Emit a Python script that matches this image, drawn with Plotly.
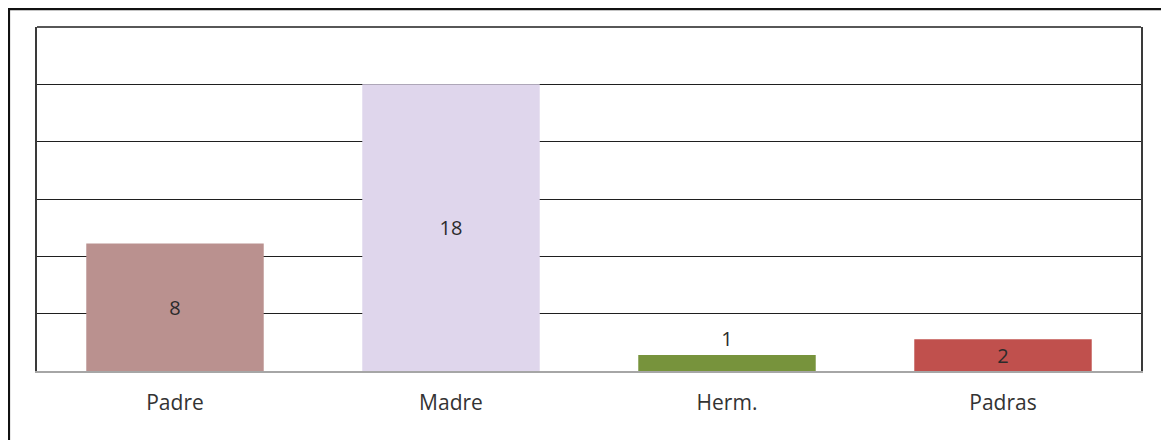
import plotly.graph_objects as go

categories = ["Padre", "Madre", "Herm.", "Padras"]
values = [8, 18, 1, 2]
bar_colors = ["#BA918F", "#DFD6EC", "#77933C", "#C0504D"]
text_positions = ["inside", "inside", "outside", "inside"]

y_max = 21.6
y_step = 3.6

fig = go.Figure()
fig.add_trace(go.Bar(
    x=categories,
    y=values,
    marker=dict(color=bar_colors, line=dict(width=0)),
    text=[str(v) for v in values],
    textposition=text_positions,
    textangle=0,
    insidetextanchor="middle",
    textfont=dict(family="Open Sans", size=20, color="#2B2B2B"),
    insidetextfont=dict(family="Open Sans", size=20, color="#2B2B2B"),
    outsidetextfont=dict(family="Open Sans", size=20, color="#2B2B2B"),
    constraintext="none",
    cliponaxis=False,
    width=0.643,
    hoverinfo="x+y",
))

# The page body adds an 8px margin, so the figure is sized/offset to compensate.
fig.update_layout(
    width=1161,
    height=432,
    margin=dict(l=29, r=28, t=19, b=69),
    paper_bgcolor="white",
    plot_bgcolor="white",
    showlegend=False,
    font=dict(family="Open Sans", size=21, color="#333333"),
    xaxis=dict(
        showline=True,
        linecolor="#A6A6A6",
        linewidth=1.5,
        showgrid=False,
        ticks="",
        tickfont=dict(family="Open Sans", size=21, color="#333333"),
        ticklabelstandoff=12,
    ),
    yaxis=dict(
        range=[0, y_max],
        tick0=0,
        dtick=y_step,
        showgrid=True,
        gridcolor="#1F1F1F",
        gridwidth=1,
        showticklabels=False,
        ticks="",
        zeroline=False,
        showline=True,
        linecolor="#3A3A3A",
        linewidth=1.5,
        mirror=True,
    ),
    shapes=[
        dict(type="line", xref="paper", yref="paper", x0=0, x1=1, y0=1, y1=1,
             line=dict(color="#1F1F1F", width=1.5)),
        dict(type="rect", xref="paper", yref="paper",
             x0=-0.0255, x1=1.0245, y0=-0.25, y1=1.052,
             line=dict(color="#111111", width=2.5), layer="above"),
    ],
)

fig.write_html("out.html")
